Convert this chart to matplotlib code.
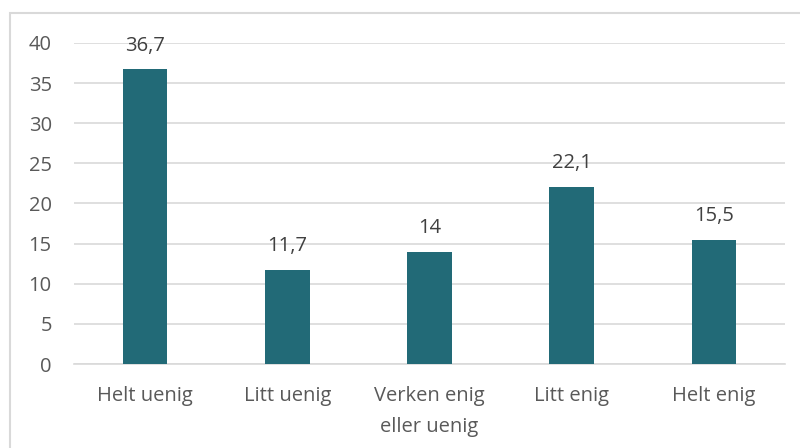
import matplotlib
matplotlib.use("Agg")
import matplotlib.pyplot as plt
from matplotlib.patches import Rectangle

categories = ["Helt uenig", "Litt uenig", "Verken enig\neller uenig", "Litt enig", "Helt enig"]
values = [36.7, 11.7, 14, 22.1, 15.5]
value_labels = ["36,7", "11,7", "14", "22,1", "15,5"]
yticks = [0, 5, 10, 15, 20, 25, 30, 35, 40]

plt.rcParams['font.family'] = ['Open Sans', 'DejaVu Sans']
txt = "#595959"

fig = plt.figure(figsize=(8, 4.48), dpi=100)
ax = fig.add_axes([74/800, 1-364/448, (785-74)/800, (364-43)/448])

x = list(range(len(categories)))
ax.bar(x, values, width=0.313, color="#226a77", zorder=3)
for xi, v, lab in zip(x, values, value_labels):
    ax.annotate(lab, (xi, v), xytext=(0, 10), textcoords="offset points",
                ha="center", va="bottom", fontsize=14.5, color="#404040")

ax.set_xlim(-0.5, len(categories) - 0.5)
ax.set_ylim(0, 40)
ax.set_yticks(yticks)
ax.set_yticklabels([str(t) for t in yticks])
ax.set_xticks(x)
ax.set_xticklabels(categories, linespacing=1.7)
ax.tick_params(axis="both", length=0, colors=txt, labelsize=14.5)
ax.tick_params(axis="y", pad=16)
ax.tick_params(axis="x", pad=16)
ax.grid(axis="y", color="#d9d9d9", linewidth=1.2, zorder=0)
for s in ["top", "right", "left"]:
    ax.spines[s].set_visible(False)
ax.spines["bottom"].set_color("#d9d9d9")
ax.spines["bottom"].set_linewidth(1.2)

fig.patches.append(Rectangle((10/800, -0.1), 1.0, 1 - 13/448 + 0.1, transform=fig.transFigure,
                             fill=False, edgecolor="#d9d9d9", linewidth=1.5))

fig.savefig("out.png", dpi=100)
